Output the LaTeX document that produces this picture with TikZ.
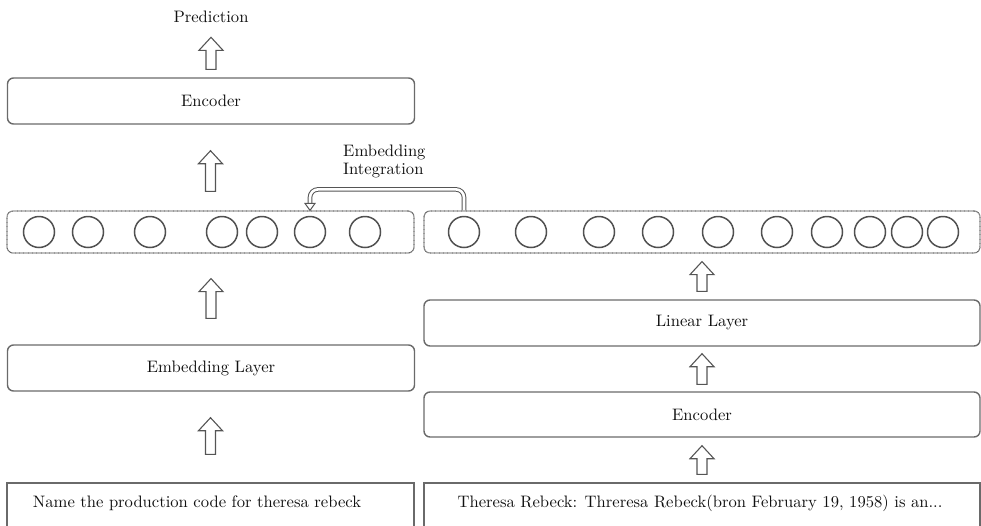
\documentclass[tikz,border=0pt]{standalone}
\usepackage{fontspec}
\setmainfont{lmroman10-regular}[Extension=.otf]
\usetikzlibrary{calc}
\definecolor{boxgray}{HTML}{6A6A6A}
\definecolor{ringgray}{HTML}{505050}
\definecolor{dotgray}{HTML}{666666}
\definecolor{arrowgray}{HTML}{555555}
\definecolor{textblack}{HTML}{111111}
\tikzset{
  every node/.style={font=\fontsize{16.6}{18}\selectfont, text=textblack},
  layerbox/.style={draw=boxgray, line width=1.4pt, rounded corners=6pt, inner sep=0pt},
  leftcol/.style={minimum width=407pt},
  rightcol/.style={minimum width=556pt},
  inputbox/.style={draw=boxgray, line width=1.4pt, inner sep=0pt, minimum height=44pt},
  tokenrow/.style={draw=dotgray, line width=1.2pt, dash pattern=on 0.8pt off 0.5pt, rounded corners=6pt, minimum height=42pt, inner sep=0pt},
  token/.style={circle, draw=ringgray, line width=1.5pt, minimum size=31pt, inner sep=0pt},
  blockup/.style={draw=arrowgray, line width=1.1pt, line join=miter, to path={
    let \p1=(\tikztostart), \p2=(\tikztotarget) in
    (\x1-5pt,\y1) -- (\x1-5pt,\y2-13pt) -- (\x1-12pt,\y2-13pt) -- (\x1,\y2)
    -- (\x1+12pt,\y2-13pt) -- (\x1+5pt,\y2-13pt) -- (\x1+5pt,\y1) -- cycle}},
  integr/.style={draw=arrowgray, line width=1pt, double=white, double distance=2.6pt, rounded corners=8pt},
}
\begin{document}
\begin{tikzpicture}[x=1pt, y=-1pt]
\useasboundingbox (0,0) rectangle (981,525);
\clip (0,0) rectangle (981,525);

% left branch: question
\node (pred) at (211,17) {Prediction};
\node[layerbox, leftcol, minimum height=46pt] (enc) at (211,101) {Encoder};
\node[tokenrow, leftcol] (lrow) at (210.5,232) {};
\node[layerbox, leftcol, minimum height=46pt] (emb) at (211,368) {Embedding Layer};
\node[inputbox, leftcol] (q) at (210.5,505) {};
\node (qt) at (197,503) {Name the production code for theresa rebeck};

% right branch: passage
\node[tokenrow, rightcol] (rrow) at (702,232) {};
\node[layerbox, rightcol, minimum height=46pt] (lin) at (702,323) {Linear Layer};
\node[layerbox, rightcol, minimum height=45pt] (renc) at (702,414.5) {Encoder};
\node[inputbox, rightcol] (p) at (702,505) {};
\node (pt) at (700,503) {Theresa Rebeck: Threresa Rebeck(bron February 19, 1958) is an...};

% token embeddings
\foreach \x [count=\i] in {39,88,150,222,262,310,365}
  \node[token] (lc\i) at (\x,232) {};
\foreach \x [count=\i] in {464,531,599,658,718,777,827,870,907,943}
  \node[token] (rc\i) at (\x,232) {};

% block arrows between stages
\coordinate (a1b) at ($(enc.north)+(0,-8)$);
\coordinate (a1t) at ($(enc.north)+(0,-40)$);
\coordinate (a2b) at ($(lrow.north)+(0,-19)$);
\coordinate (a2t) at ($(enc.south)+(0,26)$);
\coordinate (a3b) at ($(emb.north)+(0,-26)$);
\coordinate (a3t) at ($(lrow.south)+(0,25)$);
\coordinate (a4b) at ($(q.north)+(0,-28)$);
\coordinate (a4t) at ($(emb.south)+(0,26)$);
\coordinate (r1b) at ($(lin.north)+(0,-8)$);
\coordinate (r1t) at ($(rrow.south)+(0,8)$);
\coordinate (r2b) at ($(renc.north)+(0,-7)$);
\coordinate (r2t) at ($(lin.south)+(0,7)$);
\coordinate (r3b) at ($(p.north)+(0,-8)$);
\coordinate (r3t) at ($(renc.south)+(0,8)$);
\draw[blockup] (a1b) to (a1t);
\draw[blockup] (a2b) to (a2t);
\draw[blockup] (a3b) to (a3t);
\draw[blockup] (a4b) to (a4t);
\draw[blockup] (r1b) to (r1t);
\draw[blockup] (r2b) to (r2t);
\draw[blockup] (r3b) to (r3t);

% embedding integration link
\coordinate (ins) at (lc6 |- lrow.north);
\draw[integr] (rc1 |- rrow.north) -- ++(0,-21) -| ($(ins)+(0,-7)$);
\draw[draw=arrowgray, fill=white, line width=1pt, line join=miter]
  ($(ins)+(-5,-7)$) -- (ins) -- ($(ins)+(5,-7)$) -- cycle;
\node[anchor=west, align=left, inner sep=0pt] (intl) at (343,161) {Embedding\\Integration};
\end{tikzpicture}
\end{document}
